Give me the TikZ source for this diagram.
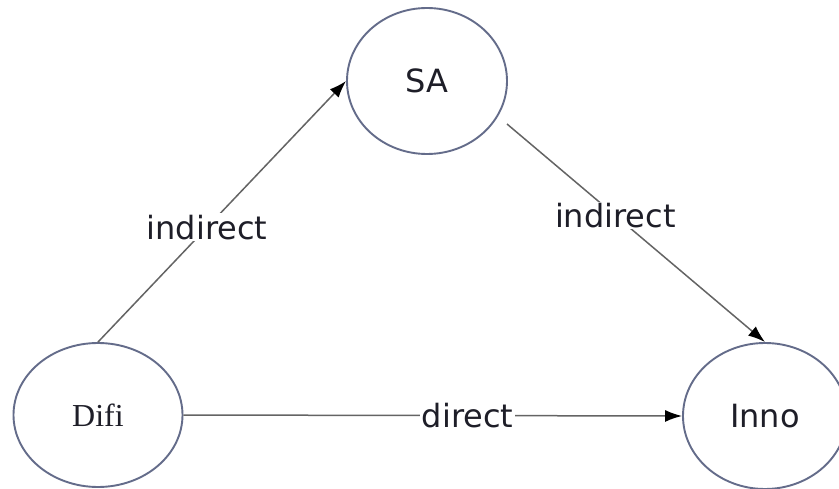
\documentclass[tikz,border=0pt]{standalone}
\usepackage{fontspec}
\setmainfont{DejaVu Sans}
\newfontfamily\serifface{Liberation Serif}
\usetikzlibrary{arrows.meta,shapes.geometric}
\definecolor{ringcol}{RGB}{100,108,138}
\definecolor{linecol}{RGB}{100,100,100}
\definecolor{txtcol}{RGB}{30,30,40}
\tikzset{
  ring/.style={draw=ringcol, line width=1.9pt, ellipse, inner sep=0pt, fill=white, text=txtcol, font=\fontsize{32}{36}\selectfont},
  conn/.style={draw=linecol, line width=1.5pt, -{Latex[length=17pt,width=12pt,color=black]}},
  lbl/.style={fill=white, inner sep=1.5pt, text=txtcol, font=\fontsize{32}{36}\selectfont}
}
\begin{document}
\begin{tikzpicture}[x=1pt,y=-1pt]
\useasboundingbox (0,0) rectangle (839,489);
\fill[white] (0,0) rectangle (839,489);
\node[ring, minimum width=169pt, minimum height=144pt] (Difi) at (98,415) {\serifface\fontsize{32}{36}\selectfont Difi};
\node[ring, minimum width=160pt, minimum height=146pt] (SA) at (427,81) {SA};
\node[ring, minimum width=164pt, minimum height=146pt] (Inno) at (765,416) {Inno};
\coordinate (saout) at (507,124);
\draw[conn] (Difi.north) -- node[lbl, pos=0.44] {indirect} (SA.west);
\draw[conn] (saout) -- node[lbl, pos=0.42] {indirect} (Inno.north);
\draw[conn] (Difi.east) -- node[lbl, pos=0.57] {direct} (Inno.west);
\end{tikzpicture}
\end{document}
